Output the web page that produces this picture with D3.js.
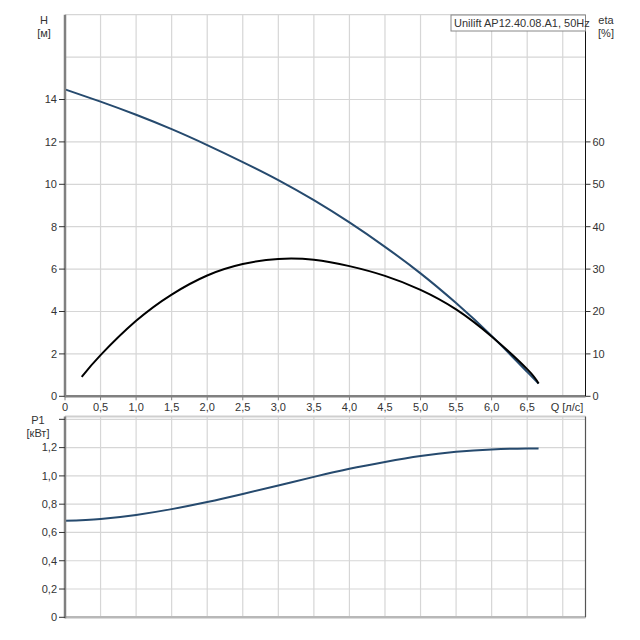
<!DOCTYPE html>
<html>
<head>
<meta charset="utf-8">
<script src="https://cdn.jsdelivr.net/npm/d3@7"></script>
<style>
  body { margin: 0; background: #fff; }
  svg { font-family: "Liberation Sans", Arial, sans-serif; }
  .tick-label { font-size: 11px; fill: #333; }
  .unit { font-size: 11px; fill: #333; }
</style>
</head>
<body>
<svg id="chart" width="640" height="640"></svg>
<script>
// flow, l/s
const qPoints = [0, 0.5, 1.0, 1.5, 2.0, 2.5, 3.0, 3.5, 4.0, 4.5, 5.0, 5.5, 6.0, 6.5, 6.66];
// head, m
const headValues = [14.48, 13.9, 13.28, 12.6, 11.85, 11.05, 10.2, 9.25, 8.2, 7.05, 5.8, 4.4, 2.85, 1.15, 0.6];
// efficiency, %
const etaQ = [0.235, 0.5, 1.0, 1.5, 2.0, 2.5, 3.0, 3.5, 4.0, 4.5, 5.0, 5.5, 6.0, 6.5, 6.66];
const etaValues = [4.6, 9.7, 17.8, 24.0, 28.5, 31.2, 32.4, 32.2, 30.7, 28.4, 25.1, 20.5, 14.1, 6.4, 3.0];
// power input, kW
const powerValues = [0.682, 0.696, 0.724, 0.765, 0.815, 0.872, 0.932, 0.993, 1.05, 1.098, 1.14, 1.17, 1.187, 1.194, 1.193];

const qTicks = [0, 0.5, 1.0, 1.5, 2.0, 2.5, 3.0, 3.5, 4.0, 4.5, 5.0, 5.5, 6.0, 6.5];
const qGrid = [0.5, 1.0, 1.5, 2.0, 2.5, 3.0, 3.5, 4.0, 4.5, 5.0, 5.5, 6.0, 6.5, 7.0];
const hTicks = [0, 2, 4, 6, 8, 10, 12, 14];
const hGrid = [2, 4, 6, 8, 10, 12, 14, 16, 18];
const etaTicks = [0, 10, 20, 30, 40, 50, 60];
const pTicks = [0, 0.2, 0.4, 0.6, 0.8, 1.0, 1.2];
const pGrid = [0.2, 0.4, 0.6, 0.8, 1.0, 1.2, 1.4];

const title = 'Unilift AP12.40.08.A1, 50Hz';
const lineBlue = '#264a6e';
const gridColor = '#d6d6d6';
const fmt = (d) => (d === 0 ? '0' : d3.format('.1f')(d).replace('.', ','));

const svg = d3.select('#chart');
const left = 65;
const right = 585.5;

const x = d3.scaleLinear().domain([0, 7.32]).range([left, right]);
const yH = d3.scaleLinear().domain([0, 18]).range([396.3, 14.7]);
const yEta = d3.scaleLinear().domain([0, 90]).range([396.3, 14.7]);
const yP = d3.scaleLinear().domain([0, 1.42]).range([617.3, 416.5]);

function drawGrid(yScale, yGridVals, yTop, yBottom) {
  const g = svg.append('g');
  g.selectAll('.vgrid')
    .data(qGrid)
    .enter()
    .append('line')
    .attr('x1', (d) => x(d))
    .attr('x2', (d) => x(d))
    .attr('y1', yTop)
    .attr('y2', yBottom)
    .attr('stroke', gridColor)
    .attr('stroke-width', 1.2);
  g.selectAll('.hgrid')
    .data(yGridVals)
    .enter()
    .append('line')
    .attr('x1', left)
    .attr('x2', right)
    .attr('y1', (d) => yScale(d))
    .attr('y2', (d) => yScale(d))
    .attr('stroke', gridColor)
    .attr('stroke-width', 1.2);
}

// ---- top chart (H, eta) ----
drawGrid(yH, hGrid, yH(18), yH(0));

const lineH = d3.line()
  .x((d) => x(d[0]))
  .y((d) => yH(d[1]))
  .curve(d3.curveNatural);

const lineEta = d3.line()
  .x((d) => x(d[0]))
  .y((d) => yEta(d[1]))
  .curve(d3.curveNatural);

svg.append('path')
  .datum(qPoints.map((q, i) => [q, headValues[i]]))
  .attr('fill', 'none')
  .attr('stroke', lineBlue)
  .attr('stroke-width', 2)
  .attr('d', lineH);

svg.append('path')
  .datum(etaQ.map((q, i) => [q, etaValues[i]]))
  .attr('fill', 'none')
  .attr('stroke', '#000')
  .attr('stroke-width', 2)
  .attr('d', lineEta);

// axes lines
svg.append('line')
  .attr('x1', left).attr('x2', left)
  .attr('y1', yH(18)).attr('y2', yH(0) + 1)
  .attr('stroke', '#808080').attr('stroke-width', 2.5);
svg.append('line')
  .attr('x1', left).attr('x2', right)
  .attr('y1', yH(0)).attr('y2', yH(0))
  .attr('stroke', '#808080').attr('stroke-width', 2.5);
svg.append('line')
  .attr('x1', right).attr('x2', right)
  .attr('y1', 31).attr('y2', yH(0))
  .attr('stroke', '#111').attr('stroke-width', 1);

// left ticks
const leftTicks = svg.append('g');
leftTicks.selectAll('line')
  .data(hTicks)
  .enter()
  .append('line')
  .attr('x1', left - 6).attr('x2', left)
  .attr('y1', (d) => yH(d)).attr('y2', (d) => yH(d))
  .attr('stroke', '#333');
leftTicks.selectAll('text')
  .data(hTicks)
  .enter()
  .append('text')
  .attr('class', 'tick-label')
  .attr('x', left - 8)
  .attr('y', (d) => yH(d))
  .attr('dy', '0.35em')
  .attr('text-anchor', 'end')
  .text((d) => d);

// right ticks
const rightTicks = svg.append('g');
rightTicks.selectAll('line')
  .data(etaTicks)
  .enter()
  .append('line')
  .attr('x1', right).attr('x2', right + 5)
  .attr('y1', (d) => yEta(d)).attr('y2', (d) => yEta(d))
  .attr('stroke', '#333');
rightTicks.selectAll('text')
  .data(etaTicks)
  .enter()
  .append('text')
  .attr('class', 'tick-label')
  .attr('x', right + 7)
  .attr('y', (d) => yEta(d))
  .attr('dy', '0.35em')
  .attr('text-anchor', 'start')
  .text((d) => d);

// x ticks
const xTicks = svg.append('g');
xTicks.selectAll('line')
  .data(qTicks)
  .enter()
  .append('line')
  .attr('x1', (d) => x(d)).attr('x2', (d) => x(d))
  .attr('y1', yH(0)).attr('y2', yH(0) + 4)
  .attr('stroke', '#808080');
xTicks.selectAll('text')
  .data(qTicks)
  .enter()
  .append('text')
  .attr('class', 'tick-label')
  .attr('x', (d) => x(d))
  .attr('y', 411)
  .attr('text-anchor', 'middle')
  .text((d) => fmt(d));

svg.append('text').attr('class', 'unit')
  .attr('x', 567).attr('y', 411).attr('text-anchor', 'middle').text('Q [л/с]');

svg.append('text').attr('class', 'unit')
  .attr('x', 44).attr('y', 24).attr('text-anchor', 'middle').text('H');
svg.append('text').attr('class', 'unit')
  .attr('x', 44).attr('y', 37).attr('text-anchor', 'middle').text('[м]');
svg.append('text').attr('class', 'unit')
  .attr('x', 606).attr('y', 24).attr('text-anchor', 'middle').text('eta');
svg.append('text').attr('class', 'unit')
  .attr('x', 606).attr('y', 37).attr('text-anchor', 'middle').text('[%]');

// legend box
svg.append('rect')
  .attr('x', 451).attr('y', 15)
  .attr('width', right - 451).attr('height', 16)
  .attr('fill', '#fff')
  .attr('stroke', '#888');
svg.append('text').attr('class', 'unit')
  .attr('x', 454).attr('y', 27).text(title);

// ---- bottom chart (P1) ----
drawGrid(yP, pGrid, yP(1.42), yP(0));

const lineP = d3.line()
  .x((d) => x(d[0]))
  .y((d) => yP(d[1]))
  .curve(d3.curveNatural);

svg.append('path')
  .datum(qPoints.map((q, i) => [q, powerValues[i]]))
  .attr('fill', 'none')
  .attr('stroke', lineBlue)
  .attr('stroke-width', 2)
  .attr('d', lineP);

svg.append('line')
  .attr('x1', left).attr('x2', right)
  .attr('y1', yP(1.42)).attr('y2', yP(1.42))
  .attr('stroke', '#cfcfcf').attr('stroke-width', 2);
svg.append('line')
  .attr('x1', left).attr('x2', right)
  .attr('y1', yP(0)).attr('y2', yP(0))
  .attr('stroke', '#b8b8b8').attr('stroke-width', 2.5);
svg.append('line')
  .attr('x1', right).attr('x2', right)
  .attr('y1', yP(1.42)).attr('y2', yP(0))
  .attr('stroke', '#555').attr('stroke-width', 1.2);
svg.append('line')
  .attr('x1', left).attr('x2', left)
  .attr('y1', yP(1.42)).attr('y2', yP(0) + 1)
  .attr('stroke', '#808080').attr('stroke-width', 2.5);

const pTickG = svg.append('g');
pTickG.selectAll('line')
  .data(pGrid.concat([0]))
  .enter()
  .append('line')
  .attr('x1', left - 6).attr('x2', left)
  .attr('y1', (d) => yP(d)).attr('y2', (d) => yP(d))
  .attr('stroke', '#333');
pTickG.selectAll('text')
  .data(pTicks)
  .enter()
  .append('text')
  .attr('class', 'tick-label')
  .attr('x', left - 8)
  .attr('y', (d) => yP(d))
  .attr('dy', '0.35em')
  .attr('text-anchor', 'end')
  .text((d) => fmt(d));

svg.append('text').attr('class', 'unit')
  .attr('x', 38).attr('y', 424).attr('text-anchor', 'middle').text('P1');
svg.append('text').attr('class', 'unit')
  .attr('x', 38).attr('y', 437).attr('text-anchor', 'middle').text('[кВт]');
</script>
</body>
</html>
